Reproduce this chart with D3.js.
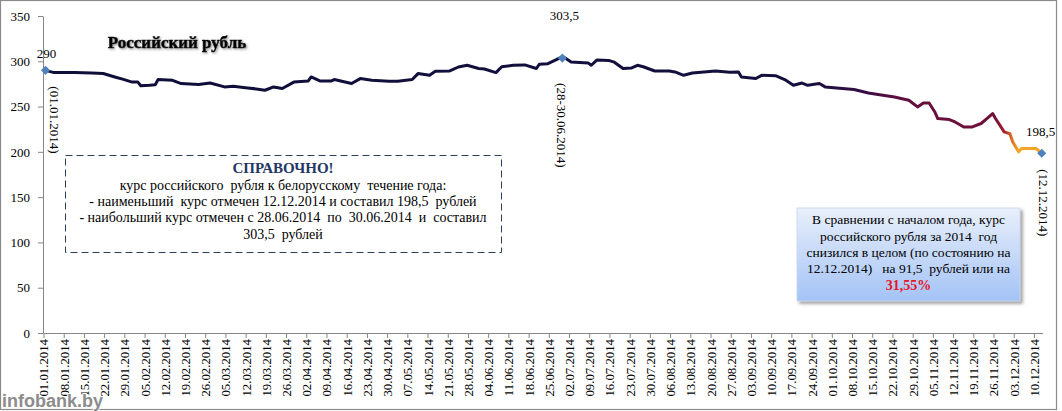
<!DOCTYPE html>
<html><head><meta charset="utf-8">
<script src="https://cdn.jsdelivr.net/npm/d3@7"></script>
<style>body{margin:0;background:#fff}svg{display:block}</style>
</head><body>
<script>
// ---- data ----
const dates = ["2014-01-01","2014-01-04","2014-01-11","2014-01-17","2014-01-21","2014-01-25","2014-01-28","2014-01-31",
"2014-02-02","2014-02-03","2014-02-06","2014-02-08","2014-02-09","2014-02-14","2014-02-17","2014-02-23","2014-02-27",
"2014-03-04","2014-03-07","2014-03-12","2014-03-15","2014-03-18","2014-03-21","2014-03-24","2014-03-28",
"2014-04-02","2014-04-03","2014-04-06","2014-04-10","2014-04-11","2014-04-17","2014-04-20","2014-04-24","2014-04-30",
"2014-05-03","2014-05-08","2014-05-10","2014-05-14","2014-05-16","2014-05-21","2014-05-24","2014-05-27","2014-05-31",
"2014-06-02","2014-06-06","2014-06-08","2014-06-12","2014-06-16","2014-06-20","2014-06-21","2014-06-24","2014-06-28","2014-06-29","2014-06-30",
"2014-07-02","2014-07-08","2014-07-09","2014-07-11","2014-07-15","2014-07-17","2014-07-20","2014-07-23","2014-07-25","2014-07-27","2014-07-31",
"2014-08-05","2014-08-07","2014-08-10","2014-08-13","2014-08-16","2014-08-21","2014-08-26","2014-08-29","2014-08-30",
"2014-09-04","2014-09-06","2014-09-11","2014-09-14","2014-09-17","2014-09-20","2014-09-22","2014-09-26","2014-09-28",
"2014-10-04","2014-10-08","2014-10-13","2014-10-18","2014-10-22","2014-10-27","2014-10-30",
"2014-11-01","2014-11-03","2014-11-05","2014-11-06","2014-11-10","2014-11-12","2014-11-15","2014-11-18","2014-11-21","2014-11-23","2014-11-25","2014-11-26","2014-11-29",
"2014-12-01","2014-12-02","2014-12-03","2014-12-04","2014-12-05","2014-12-10","2014-12-12"];
const values = [290,287.5,287.5,287,286.5,282.7,280,277,
277,273,273.5,274,279.8,279,275.4,274.3,276,
271.7,272.5,270.6,269.5,268,271.7,270,277,
278.3,282.7,278.3,278.3,279.8,275.4,280.9,279,278,
278,279.8,286.4,284.5,289,289.3,293.7,295.6,292,
291.5,287.5,294,295.6,296,292,296.7,297.4,303.5,303.5,303.5,
299.2,298,295.6,301.5,301,299,292,292.7,295.6,294,289.3,
289.3,288.2,284.5,287,288,289.3,288,288.2,282.7,
281,284.5,284,279.8,273.5,276,273.5,275.4,271.7,
270,268.8,265,262.5,260.6,257,249.6,
254,254,244,236.8,235.7,233,227.5,227.5,231.3,236.8,242.3,236.8,222,
220,211,205.5,200,203.7,203.7,198.5];

const yTicks = [0,50,100,150,200,250,300,350];
const xTickLabels = ["01.01.2014","08.01.2014","15.01.2014","22.01.2014","29.01.2014","05.02.2014","12.02.2014","19.02.2014",
"26.02.2014","05.03.2014","12.03.2014","19.03.2014","26.03.2014","02.04.2014","09.04.2014","16.04.2014","23.04.2014",
"30.04.2014","07.05.2014","14.05.2014","21.05.2014","28.05.2014","04.06.2014","11.06.2014","18.06.2014","25.06.2014",
"02.07.2014","09.07.2014","16.07.2014","23.07.2014","30.07.2014","06.08.2014","13.08.2014","20.08.2014","27.08.2014",
"03.09.2014","10.09.2014","17.09.2014","24.09.2014","01.10.2014","08.10.2014","15.10.2014","22.10.2014","29.10.2014",
"05.11.2014","12.11.2014","19.11.2014","26.11.2014","03.12.2014","10.12.2014"];

const markerDates = ["2014-01-01","2014-06-29","2014-12-12"];
const markerValues = [290,303.5,198.5];
const markerLabels = ["290","303,5","198,5"];
const markerDateLabels = ["(01.01.2014)","(28-30.06.2014)","(12.12.2014)"];

const title = "Российский рубль";
const box1Lines = ["СПРАВОЧНО!","курс российского  рубля к белорусскому  течение года:",
"- наименьший  курс отмечен 12.12.2014 и составил 198,5  рублей",
"- наибольший курс отмечен с 28.06.2014  по  30.06.2014  и  составил",
"303,5  рублей"];
const box2Lines = ["В сравнении с началом года, курс","российского рубля за 2014  год",
"снизился в целом (по состоянию на","12.12.2014)   на 91,5  рублей или на"];
const box2Highlight = "31,55%";
const watermark = "infobank.by";

// ---- drawing ----
const W = 1062, H = 411;
const serif = "'Liberation Serif','Times New Roman',serif";
const parse = d3.utcParse("%Y-%m-%d");
const parseLbl = d3.utcParse("%d.%m.%Y");

const svg = d3.select("body").append("svg").attr("width", W).attr("height", H);
const defs = svg.append("defs");

const x = d3.scaleUtc().domain([parse("2014-01-01"), parse("2014-12-13")]).range([43.5, 1042.6]);
const y = d3.scaleLinear().domain([0, 350]).range([333, 16]);

// outer border
svg.append("rect").attr("x",0.5).attr("y",0.5).attr("width",1056).attr("height",409)
  .attr("fill","#fff").attr("stroke","#8a8a8a").attr("stroke-width",1.2);

// Axes
const yAxis = svg.append("g").attr("transform","translate(43,0)")
  .call(d3.axisLeft(y).tickValues(yTicks).tickSize(5).tickSizeOuter(0).tickPadding(8));
yAxis.selectAll("text").attr("font-family", serif).attr("font-size", 13).attr("fill","#000");

const xAxis = svg.append("g").attr("transform","translate(0,333)")
  .call(d3.axisBottom(x).tickValues(xTickLabels.map(parseLbl)).tickSize(5).tickSizeOuter(0)
    .tickFormat(d3.utcFormat("%d.%m.%Y")));
xAxis.selectAll("text").attr("font-family", serif).attr("font-size", 12.8).attr("fill","#000")
  .attr("transform","rotate(-90)").attr("x",-6).attr("y",0).attr("dy","0.35em").attr("text-anchor","end");
svg.selectAll(".domain, .tick line").attr("stroke","#868686");

// gradient for line
const grad = defs.append("linearGradient").attr("id","lg").attr("gradientUnits","userSpaceOnUse")
  .attr("x1",0).attr("x2",W).attr("y1",0).attr("y2",0);
[[0,"#0e0e38"],[800,"#14103e"],[860,"#330d44"],[900,"#600f3f"],[995,"#730f3a"],[1004,"#a81c30"],[1012,"#dd7020"],[1018,"#f2a526"],[1062,"#f2a526"]]
  .forEach(([o,c]) => grad.append("stop").attr("offset", o/W).attr("stop-color", c));

const pts = dates.map((d,i) => [parse(d), values[i]]);
svg.append("path").datum(pts)
  .attr("fill","none").attr("stroke","url(#lg)").attr("stroke-width",3).attr("stroke-linejoin","round")
  .attr("d", d3.line().x(d => x(d[0]) + 2).y(d => y(d[1])));

// markers
const mk = markerDates.map((d,i) => ({x: x(parse(d)) + 2, y: y(markerValues[i]), lab: markerLabels[i], dl: markerDateLabels[i]}));
svg.selectAll(".mk").data(mk).join("path")
  .attr("transform", d => `translate(${d.x},${d.y}) rotate(45)`)
  .attr("d", d3.symbol(d3.symbolSquare).size(42)).attr("fill","#4f81bd");

const labOff = [[1,-12],[2,-38],[-1,-17]];
const dOff = [[9,16],[-1,25],[2,16]];
svg.selectAll(".ml").data(mk).join("text")
  .attr("x",(d,i)=>d.x+labOff[i][0]).attr("y",(d,i)=>d.y+labOff[i][1])
  .attr("text-anchor","middle").attr("font-family",serif).attr("font-size",13).text(d=>d.lab);
svg.selectAll(".md").data(mk).join("text")
  .attr("transform",(d,i)=>`translate(${d.x+dOff[i][0]},${d.y+dOff[i][1]}) rotate(90)`)
  .attr("dy","0.35em").attr("font-family",serif).attr("font-size",13).text(d=>d.dl);

// title with shadow
const f = defs.append("filter").attr("id","ts").attr("x","-10%").attr("y","-30%").attr("width","120%").attr("height","160%");
f.append("feDropShadow").attr("dx",1.2).attr("dy",1.2).attr("stdDeviation",0.8).attr("flood-color","#777").attr("flood-opacity",0.8);
svg.append("text").attr("x",177).attr("y",48).attr("text-anchor","middle")
  .attr("font-family",serif).attr("font-weight","bold").attr("font-size",17)
  .attr("stroke","#000").attr("stroke-width",0.6)
  .attr("filter","url(#ts)").text(title);

// box 1
svg.append("rect").attr("x",65.5).attr("y",155.5).attr("width",436).attr("height",97)
  .attr("fill","#fff").attr("stroke","#2b3f5c").attr("stroke-width",1).attr("stroke-dasharray","7,4");
const b1y = [173,190,206,222,239];
svg.selectAll(".b1").data(box1Lines).join("text")
  .attr("x",283).attr("y",(d,i)=>b1y[i]).attr("text-anchor","middle")
  .attr("font-family",serif).attr("font-size",(d,i)=>i===0?15:14)
  .attr("font-weight",(d,i)=>i===0?"bold":"normal").attr("fill",(d,i)=>i===0?"#1f3864":"#000")
  .style("white-space","pre").text(d=>d);

// box 2
const g2 = defs.append("linearGradient").attr("id","bg2").attr("x1",0).attr("x2",0).attr("y1",0).attr("y2",1);
g2.append("stop").attr("offset",0).attr("stop-color","#e8effb");
g2.append("stop").attr("offset",1).attr("stop-color","#a4c3f6");
const f2 = defs.append("filter").attr("id","bs").attr("x","-10%").attr("y","-10%").attr("width","125%").attr("height","130%");
f2.append("feDropShadow").attr("dx",2.5).attr("dy",2.5).attr("stdDeviation",1.5).attr("flood-color","#555").attr("flood-opacity",0.55);
svg.append("rect").attr("x",797).attr("y",208).attr("width",223).attr("height",93)
  .attr("fill","url(#bg2)").attr("stroke","#c8d6ee").attr("stroke-width",0.8).attr("filter","url(#bs)");
const b2y = [224,241,257,273];
svg.selectAll(".b2").data(box2Lines).join("text")
  .attr("x",908.5).attr("y",(d,i)=>b2y[i]).attr("text-anchor","middle")
  .attr("font-family",serif).attr("font-size",13.5).style("white-space","pre").text(d=>d);
svg.append("text").attr("x",908.5).attr("y",290).attr("text-anchor","middle")
  .attr("font-family",serif).attr("font-size",14).attr("font-weight","bold").attr("fill","#e8141e").text(box2Highlight);

// watermark
svg.append("text").attr("x",2).attr("y",407).attr("font-family","'Liberation Sans',Arial,sans-serif")
  .attr("font-weight","bold").attr("font-size",18).attr("fill","#8c8c8c")
  .attr("stroke","#fff").attr("stroke-width",2).attr("paint-order","stroke").text(watermark);
</script>
</body></html>
